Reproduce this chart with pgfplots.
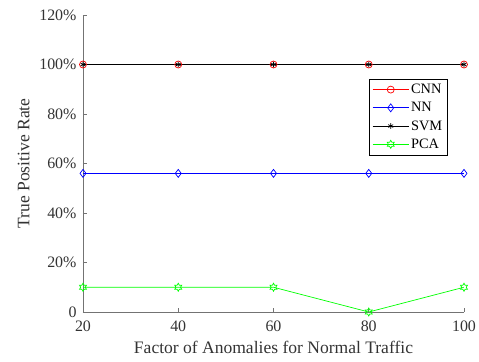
\documentclass[border=0pt]{standalone}
\usepackage{fontspec}
\setmainfont{Liberation Serif}
\usepackage{pgfplots}
\pgfplotsset{compat=1.18}
\pgfdeclareplotmark{hexagram}{%
  \pgfpathmoveto{\pgfqpointpolar{90}{\pgfplotmarksize}}%
  \pgfpathlineto{\pgfqpointpolar{120}{0.577\pgfplotmarksize}}%
  \pgfpathlineto{\pgfqpointpolar{150}{\pgfplotmarksize}}%
  \pgfpathlineto{\pgfqpointpolar{180}{0.577\pgfplotmarksize}}%
  \pgfpathlineto{\pgfqpointpolar{210}{\pgfplotmarksize}}%
  \pgfpathlineto{\pgfqpointpolar{240}{0.577\pgfplotmarksize}}%
  \pgfpathlineto{\pgfqpointpolar{270}{\pgfplotmarksize}}%
  \pgfpathlineto{\pgfqpointpolar{300}{0.577\pgfplotmarksize}}%
  \pgfpathlineto{\pgfqpointpolar{330}{\pgfplotmarksize}}%
  \pgfpathlineto{\pgfqpointpolar{0}{0.577\pgfplotmarksize}}%
  \pgfpathlineto{\pgfqpointpolar{30}{\pgfplotmarksize}}%
  \pgfpathlineto{\pgfqpointpolar{60}{0.577\pgfplotmarksize}}%
  \pgfpathclose
  \pgfusepathqstroke
}
\definecolor{mgreen}{rgb}{0,1,0}
\begin{document}
\begin{tikzpicture}
\begin{axis}[
  scale only axis, width=381bp, height=297bp,
  xmin=20, xmax=100, ymin=0, ymax=120,
  axis x line=bottom, axis y line=left,
  axis line style={black!55, -, line width=0.8bp},
  tick style={black!55, line width=0.6bp},
  tick align=inside, major tick length=4bp,
  xtick={20,40,60,80,100},
  ytick={0,20,40,60,80,100,120},
  yticklabels={0,20\%,40\%,60\%,80\%,100\%,120\%},
  /pgf/number format/assume math mode=true,
  xticklabel shift=5bp, yticklabel shift=3bp,
  tick label style={font=\fontsize{16}{16}\selectfont, text=black!80},
  label style={font=\fontsize{17.6}{18}\selectfont, text=black!80},
  xlabel={Factor of Anomalies for Normal Traffic},
  ylabel={True Positive Rate},
  xlabel style={yshift=-3bp},
  ylabel style={yshift=3bp},
  legend style={at={(0.751,0.785)}, anchor=north west, draw=black, line width=0.5bp,
    font=\fontsize{14.4}{15}\selectfont, cells={anchor=west}, row sep=3.3bp,
    inner xsep=3bp, inner ysep=3bp},
  legend image code/.code={\draw[mark repeat=2, mark phase=2] plot coordinates {(0bp,0bp) (18bp,0bp) (36bp,0bp)};},
  legend cell align=left,
  every axis plot/.append style={line width=0.7bp, mark size=3.5bp},
]
\coordinate (O) at (rel axis cs:0,0);
\addplot[red, mark=o] coordinates {(20,100) (40,100) (60,100) (80,100) (100,100)};
\addlegendentry{CNN}
\addplot[blue, mark=diamond, mark size=4bp] coordinates {(20,56) (40,56) (60,56) (80,56) (100,56)};
\addlegendentry{NN}
\addplot[black, mark=asterisk, mark size=2.8bp] coordinates {(20,100) (40,100) (60,100) (80,100) (100,100)};
\addlegendentry{SVM}
\addplot[mgreen, mark=hexagram, mark size=4bp] coordinates {(20,10) (40,10) (60,10) (80,0) (100,10)};
\addlegendentry{PCA\hspace{4bp}}
\end{axis}
\pgfresetboundingbox
\useasboundingbox (O) ++(-83bp,-50bp) rectangle ++(479bp,362bp);
\end{tikzpicture}
\end{document}
